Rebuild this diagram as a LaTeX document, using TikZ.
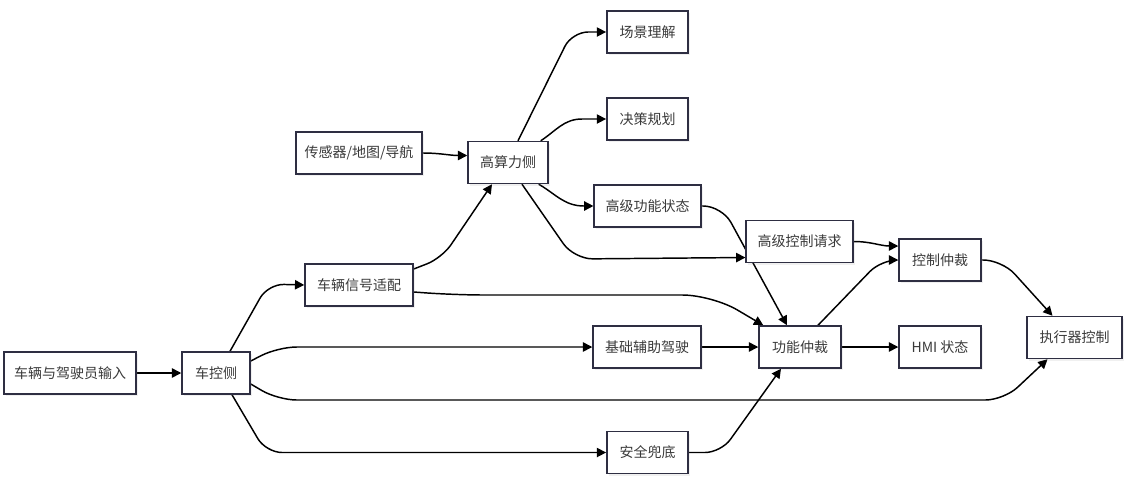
\documentclass[tikz,border=0pt]{standalone}
\usepackage{fontspec}
\newfontfamily\cjk{Noto Sans CJK SC}
\usetikzlibrary{arrows.meta,shadows,backgrounds,calc}
\definecolor{boxline}{HTML}{2E2E42}
\definecolor{txt}{HTML}{3A3A3A}
\tikzset{
  box/.style={draw=boxline, line width=1.1pt, fill=white, minimum height=31.5pt,
    inner sep=2pt, font=\cjk\fontsize{10.5}{12}\selectfont, text=txt,
    drop shadow={shadow xshift=1.6pt, shadow yshift=-1.6pt, opacity=0.12}},
  conn/.style={draw=black, line width=1.1pt, -{Triangle[length=7pt,width=7pt]}},
}
\begin{document}
\begin{tikzpicture}[x=0.75pt,y=-0.75pt]
\useasboundingbox (0,0) rectangle (1124,476);
% nodes
\node[box, minimum width=99pt] (in) at (70,373) {车辆与驾驶员输入};
\node[box, minimum width=51pt] (ck) at (216,373) {车控侧};
\node[box, minimum width=81pt] (sig) at (359,285) {车辆信号适配};
\node[box, minimum width=94.5pt] (sen) at (359,153) {传感器/地图/导航};
\node[box, minimum width=60pt] (high) at (508,162.5) {高算力侧};
\node[box, minimum width=61pt] (scene) at (647.5,32) {场景理解};
\node[box, minimum width=61pt] (plan) at (647.5,119) {决策规划};
\node[box, minimum width=80pt] (hst) at (647.5,206) {高级功能状态};
\node[box, minimum width=80pt] (hreq) at (799.5,241.5) {高级控制请求};
\node[box, minimum width=61.5pt] (ctrl) at (940,260) {控制仲裁};
\node[box, minimum width=61.5pt] (func) at (800,347) {功能仲裁};
\node[box, minimum width=61.5pt] (hmi) at (940,347) {HMI 状态};
\node[box, minimum width=81pt] (base) at (647,347) {基础辅助驾驶};
\node[box, minimum width=61pt] (safe) at (647.5,452.5) {安全兜底};
\node[box, minimum width=71pt] (act) at (1074.5,337.5) {执行器控制};
% connectors
\begin{scope}[on background layer]
\draw[conn] (in.east) -- (ck.west);
\draw[conn, rounded corners=12] ($(ck.north)+(14,0)$) -- (268,284) -- (sig.west);
\draw[conn, rounded corners=14] ($(ck.east)+(0,-12)$) -- (278,347) -- (base.west);
\draw[conn, rounded corners=14] ($(ck.east)+(0,11)$) -- (278,400) -- (1004,400) -- ($(act.south)+(-27,0)$);
\draw[conn, rounded corners=12] ($(ck.south)+(16,0)$) -- (266,452.5) -- (safe.west);
\draw[conn, rounded corners=12] ($(sig.east)+(0,-16)$) -- (442,258) -- ($(high.south)+(-16,0)$);
\draw[conn, rounded corners=22] ($(sig.east)+(0,7)$) -- (455,295) -- (712,295) -- ($(func.north west)+(5,0)$);
\draw[conn] (sen.east) to[out=0,in=180] ($(high.west)+(0,-7)$);
\draw[conn, rounded corners=12] ($(high.north)+(10,0)$) -- (572,32) -- (scene.west);
\draw[conn] ($(high.north east)+(-8,0)$) to[out=33,in=180] (582,119) -- (plan.west);
\draw[conn] ($(high.south east)+(-10,0)$) to[out=-30,in=180] (584,206) -- (hst.west);
\draw[conn, rounded corners=14] ($(high.south)+(14,0)$) -- (574,259) -- ($(hreq.west)+(0,16)$);
\draw[conn, rounded corners=14] (hst.east) -- (722,206) -- ($(func.north)+(-13,0)$);
\draw[conn] (hreq.east) to[out=0,in=180] ($(ctrl.west)+(0,-14)$);
\draw[conn, rounded corners=12] ($(func.north)+(18,0)$) -- (881,260) -- (ctrl.west);
\draw[conn] (base.east) -- (func.west);
\draw[conn] (func.east) -- (hmi.west);
\draw[conn, rounded corners=12] (safe.east) -- (721,452.5) -- ($(func.south)+(-19,0)$);
\draw[conn, rounded corners=14] (ctrl.east) -- (1002,260) -- ($(act.north)+(-22,0)$);
\end{scope}
\end{tikzpicture}
\end{document}
